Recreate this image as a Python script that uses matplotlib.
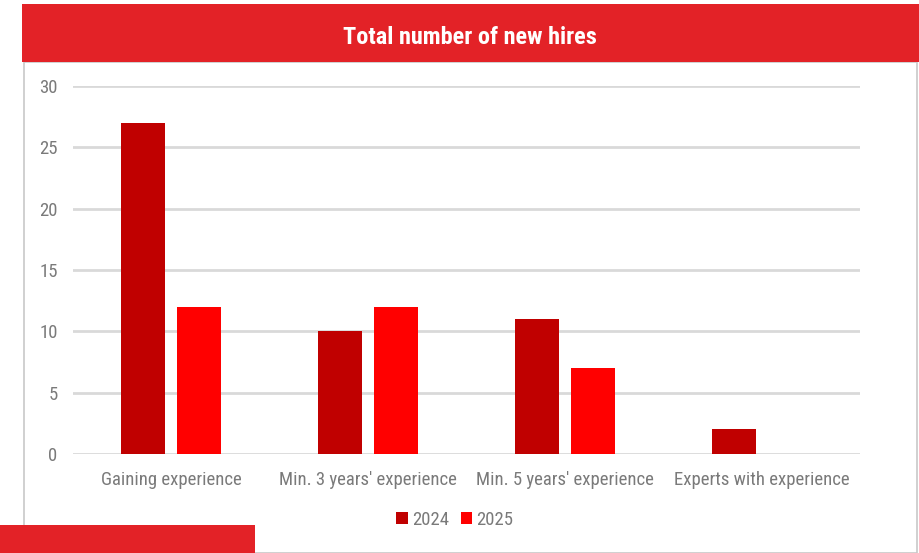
import numpy as np
from matplotlib import pyplot as plt
from matplotlib.patches import Rectangle

categories = ["Gaining experience", "Min. 3 years' experience",
              "Min. 5 years' experience", "Experts with experience"]
hires_2024 = [27, 10, 11, 2]
hires_2025 = [12, 12, 7, 0]
yticks = [0, 5, 10, 15, 20, 25, 30]

plt.rcParams['font.family'] = ['Roboto Condensed', 'Liberation Sans Narrow', 'Lato', 'DejaVu Sans']

W, H = 920, 553
fig = plt.figure(figsize=(W / 100, H / 100), dpi=100)

def fx(px):
    return px / W

def fy(py):
    return 1 - py / H

# panel border
fig.patches.append(Rectangle((fx(24), fy(553)), fx(917) - fx(24), fy(62) - fy(553),
                             transform=fig.transFigure, facecolor='white',
                             edgecolor='#c8c8c8', lw=1.2, zorder=0))
# header band
fig.patches.append(Rectangle((fx(22), fy(62)), fx(920) - fx(22), fy(4) - fy(62),
                             transform=fig.transFigure, facecolor='#e32227',
                             edgecolor='none', zorder=1))
fig.text(fx(470), fy(38), "Total number of new hires", color='white',
         fontsize=17.5, fontweight='bold', ha='center', va='center')
# bottom-left red block
fig.patches.append(Rectangle((0, 0), fx(255), fy(525),
                             transform=fig.transFigure, facecolor='#e32227',
                             edgecolor='none', zorder=2))

ax = fig.add_axes([fx(73), fy(454), fx(860) - fx(73), fy(86) - fy(454)])
ax.set_zorder(5)
ax.set_facecolor('none')
x = np.arange(len(categories))
w = 0.223
off = 0.142
ax.bar(x - off, hires_2024, w, color='#c00000', label='2024', zorder=3)
ax.bar(x + off, hires_2025, w, color='#ff0000', label='2025', zorder=3)

ax.set_xlim(-0.5, 3.5)
ax.set_ylim(0, 30)
ax.set_yticks(yticks)
ax.set_xticks(x)
ax.set_xticklabels(categories)
ax.grid(axis='y', color='#d9d9d9', lw=2, zorder=0)
for s in ax.spines.values():
    s.set_visible(False)
ax.tick_params(length=0, labelsize=13.5, colors='#7a7a7a')
ax.tick_params(axis='y', pad=11)
ax.tick_params(axis='x', pad=12)

ax.legend(loc='center', bbox_to_anchor=(fx(455), fy(520)),
          bbox_transform=fig.transFigure, ncol=2, frameon=False,
          fontsize=13.5, labelcolor='#7a7a7a', handlelength=0.6,
          handleheight=0.6, handletextpad=0.25, columnspacing=0.6)

fig.savefig('out.png', dpi=100)
